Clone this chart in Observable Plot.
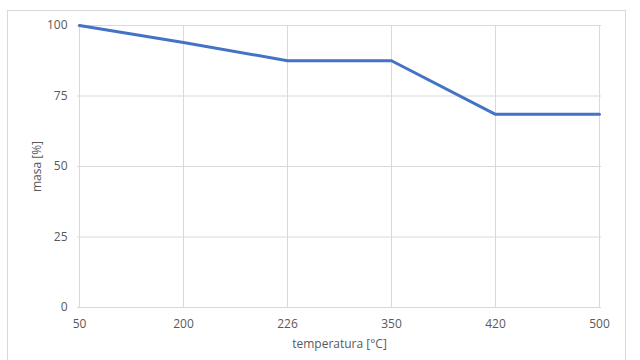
<!DOCTYPE html>
<html><head><meta charset="utf-8">
<script src="https://cdn.jsdelivr.net/npm/d3@7"></script>
<script src="https://cdn.jsdelivr.net/npm/@observablehq/plot@0.6"></script>
<style>
body{margin:0;background:#fff;}
#wrap{position:relative;width:640px;height:360px;overflow:hidden;}
#border{position:absolute;left:7px;top:10px;width:619px;height:360px;border:1px solid #d9d9d9;box-sizing:border-box;}
#chart{position:absolute;left:0;top:0;}
</style>
</head><body>
<div id="wrap"><div id="border"></div><div id="chart"></div></div>
<script>
const temperatures = ["50", "200", "226", "350", "420", "500"];
const masses = [100, 94, 87.5, 87.5, 68.5, 68.5];
const yTicks = [0, 25, 50, 75, 100];

const data = temperatures.map((t, i) => ({t, m: masses[i]}));

const chart = Plot.plot({
  width: 640,
  height: 360,
  marginLeft: 77,
  marginRight: 39,
  marginTop: 25,
  marginBottom: 53,
  style: {fontFamily: "'Open Sans', sans-serif", fontSize: "12px", color: "#595959", background: "transparent"},
  x: {type: "point", domain: temperatures, padding: 0},
  y: {domain: [0, 100], ticks: yTicks},
  marks: [
    Plot.gridX(temperatures, {stroke: "#d9d9d9", strokeOpacity: 1}),
    Plot.gridY(yTicks, {stroke: "#d9d9d9", strokeOpacity: 1}),
    Plot.axisX({tickSize: 0, tickPadding: 12, label: "temperatura [°C]", labelAnchor: "center", labelArrow: "none", labelOffset: 40, fill: "#595959"}),
    Plot.axisY({tickSize: 0, tickPadding: 10, label: "masa [%]", labelAnchor: "center", labelArrow: "none", labelOffset: 45, fill: "#595959", ticks: yTicks}),
    Plot.line(data, {x: "t", y: "m", stroke: "#4472c4", strokeWidth: 3, strokeLinejoin: "round"})
  ]
});
document.getElementById("chart").appendChild(chart);
</script>
</body></html>
